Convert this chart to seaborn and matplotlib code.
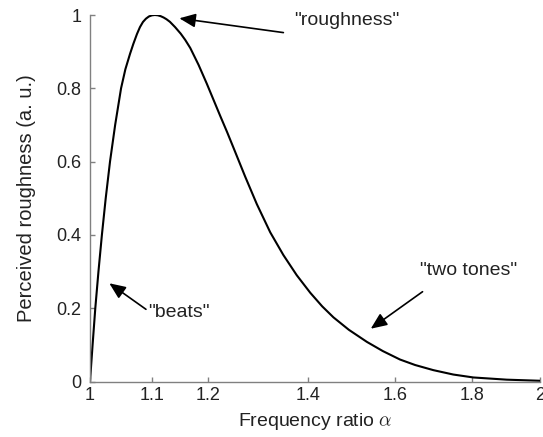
import numpy as np
import pandas as pd
import matplotlib
matplotlib.use("Agg")
import matplotlib.pyplot as plt
import seaborn as sns

# values
ratio = [1.000, 1.0040, 1.0082, 1.0131, 1.0185, 1.0245, 1.0313, 1.0395, 1.049,
         1.056, 1.0636, 1.069, 1.075, 1.080, 1.085, 1.090, 1.095, 1.100, 1.105,
         1.110, 1.115, 1.120, 1.125, 1.131, 1.140, 1.150, 1.158, 1.167, 1.182,
         1.197, 1.210, 1.222, 1.235, 1.247, 1.270, 1.293, 1.320, 1.347, 1.375,
         1.404, 1.430, 1.455, 1.490, 1.532, 1.570, 1.612, 1.650, 1.697, 1.750,
         1.805, 1.900, 2.000]
roughness = [0.000, 0.100, 0.200, 0.300, 0.400, 0.500, 0.600, 0.700, 0.800,
             0.852, 0.894, 0.921, 0.948, 0.967, 0.981, 0.990, 0.996, 0.999, 1.000,
             0.9992, 0.9968, 0.9932, 0.9885, 0.9814, 0.967, 0.949, 0.932, 0.910, 0.864,
             0.813, 0.767, 0.725, 0.681, 0.639, 0.559, 0.484, 0.407, 0.345, 0.290,
             0.242, 0.205, 0.175, 0.141, 0.108, 0.083, 0.060, 0.045, 0.031, 0.019,
             0.011, 0.005, 0.002]

xticks = [1, 1.1, 1.2, 1.4, 1.6, 1.8, 2]
xticklabels = ["1", "1.1", "1.2", "1.4", "1.6", "1.8", "2"]
yticks = [0, 0.2, 0.4, 0.6, 0.8, 1]
yticklabels = ["0", "0.2", "0.4", "0.6", "0.8", "1"]

notes = ['"roughness"', '"two tones"', '"beats"']
note_text_xy = [(1.369, 0.984), (1.662, 0.304), (1.094, 0.187)]
note_tail_xy = [(1.347, 0.952), (1.669, 0.245), (1.090, 0.197)]
note_tip_xy = [(1.1475, 0.991), (1.541, 0.144), (1.0302, 0.268)]

df = pd.DataFrame({"ratio": ratio, "roughness": roughness})

sns.set_theme(style="ticks")
plt.rcParams["font.family"] = ["Liberation Sans", "DejaVu Sans"]
plt.rcParams["mathtext.fontset"] = "cm"

fig = plt.figure(figsize=(5.43, 4.37), dpi=100)
ax = fig.add_axes([90 / 543, 1 - 381.5 / 437, 450 / 543, 366.5 / 437])

sns.lineplot(data=df, x="ratio", y="roughness", ax=ax, color="black", linewidth=1.5)

ax.set_xscale("log")
ax.set_xlim(1, 2)
ax.set_ylim(0, 1)
ax.set_xticks(xticks)
ax.set_xticklabels(xticklabels)
ax.xaxis.set_minor_locator(matplotlib.ticker.NullLocator())
ax.set_yticks(yticks)
ax.set_yticklabels(yticklabels)

for side in ["top", "right"]:
    ax.spines[side].set_visible(False)
for side in ["left", "bottom"]:
    ax.spines[side].set_color("#808080")
    ax.spines[side].set_linewidth(1.0)

ax.tick_params(axis="both", direction="in", length=3.6, width=1.0, color="#808080",
               labelsize=13, labelcolor="#222222")
ax.tick_params(axis="x", pad=4)
ax.tick_params(axis="y", pad=6)

ax.set_xlabel(r"Frequency ratio $\alpha$", fontsize=14, color="#222222", labelpad=5)
ax.set_ylabel("Perceived roughness (a. u.)", fontsize=14.5, color="#222222", labelpad=15)

for txt, txy, tail, tip in zip(notes, note_text_xy, note_tail_xy, note_tip_xy):
    ax.text(txy[0], txy[1], txt, fontsize=14, color="#222222", ha="left", va="center")
    ax.annotate("", xy=tip, xytext=tail,
                arrowprops=dict(arrowstyle="-|>,head_length=0.7,head_width=0.3",
                                color="black", lw=1.2, shrinkA=0, shrinkB=0,
                                mutation_scale=14))

fig.savefig("out.png", dpi=100)
